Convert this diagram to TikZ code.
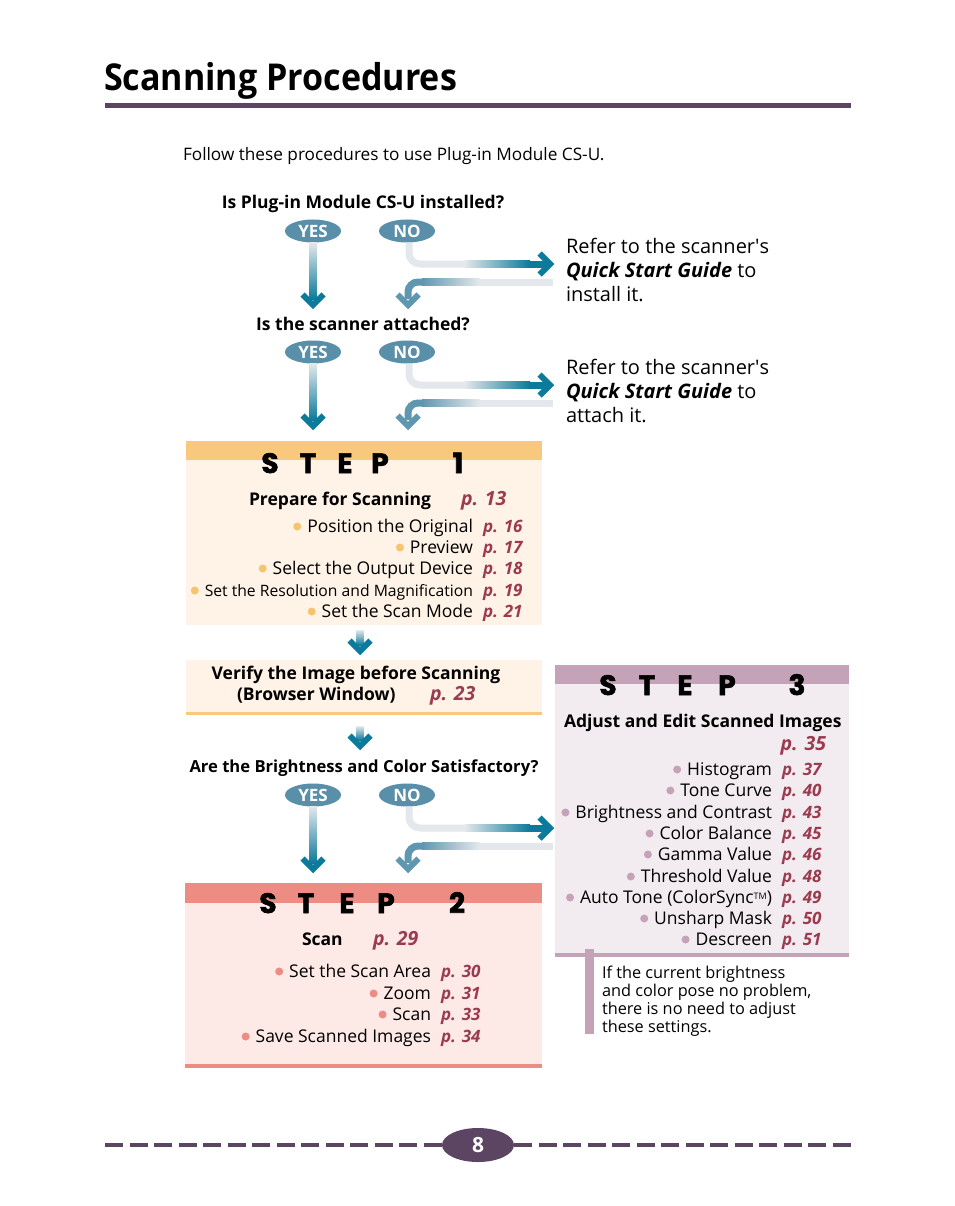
\documentclass[tikz,border=0pt]{standalone}
\usepackage{fontspec}
\setmainfont{Open Sans}
\newfontfamily\hfont{Open Sans}
\newfontfamily\titlefont{Open Sans}[FakeStretch=0.92]
\newfontfamily\stepfont{Poppins}[FakeBold=2]
\usetikzlibrary{calc,shapes.geometric}
\definecolor{ttl}{HTML}{5C4563}
\definecolor{tealc}{HTML}{0B7A9B}
\definecolor{lg}{HTML}{E4E8EC}
\definecolor{rb}{HTML}{5F97B0}
\definecolor{ynf}{HTML}{5A8FA9}
\definecolor{pref}{HTML}{9A3B50}
\definecolor{oband}{HTML}{F8C97C}
\definecolor{obody}{HTML}{FFF2E6}
\definecolor{obul}{HTML}{F6C46E}
\definecolor{sband}{HTML}{EC8C82}
\definecolor{sbody}{HTML}{FDEAE6}
\definecolor{mband}{HTML}{C4A3B8}
\definecolor{mbody}{HTML}{F2EBEF}
\tikzset{
  every node/.style={inner sep=0pt, outer sep=0pt},
  yn/.style={ellipse, fill=ynf, text=white, font=\hfont\bfseries\fontsize{17}{17}\selectfont, minimum width=56, minimum height=23},
  qtext/.style={font=\hfont\bfseries\fontsize{17.5}{20}\selectfont, anchor=base},
  itemtext/.style={font=\fontsize{17.5}{20}\selectfont, anchor=base east},
  pg/.style={font=\bfseries\itshape\fontsize{17}{20}\selectfont, text=pref, anchor=base west},
  pgbig/.style={font=\bfseries\itshape\fontsize{19.5}{20}\selectfont, text=pref, anchor=base west},
  stepl/.style={font=\stepfont\bfseries\fontsize{28}{28}\selectfont, anchor=base},
  refer/.style={font=\fontsize{20}{24}\selectfont, align=left, anchor=north west},
  shaft/.style={line width=7},
  headtip/.style={line width=6, line join=miter, miter limit=10},
}
\newcommand\itemrow[6]{%
  \node[itemtext] (#1) at (#2,#3) {#4};
  \node[pg] (#1p) at ($(#1.base east)+(10,0)$) {#5};
  \fill[#6] ($(#1.base west)+(-10,-5.5)$) circle (4);
}
\newcommand\ynarrows[1]{%
  % YES arrow
  \shade[top color=lg, bottom color=tealc] ($(yes#1.south)+(-3.5,0)$) rectangle ($(yt#1)+(3.5,-6)$);
  \draw[headtip, tealc] ($(yt#1)+(-10.5,-10.5)$) -- (yt#1) -- ($(yt#1)+(10.5,-10.5)$);
  % NO arrow
  \draw[shaft, lg, rounded corners=11] ($(no#1.south)+(2,0)$) |- ($(nt#1)+(-85,0)$);
  \shade[left color=lg, right color=tealc] ($(nt#1)+(-85.5,-3.5)$) rectangle ($(nt#1)+(-20,3.5)$);
  \fill[tealc] ($(nt#1)+(-20.5,-3.5)$) rectangle ($(nt#1)+(-4,3.5)$);
  \draw[headtip, tealc] ($(nt#1)+(-10.5,-10.5)$) -- (nt#1) -- ($(nt#1)+(-10.5,10.5)$);
  % return arrow
  \draw[shaft, lg] (rs#1) -- ($(rs#1)+(-73,0)$);
  \shade[left color=rb, right color=lg] ($(rs#1)+(-73.5,-3.5)$) rectangle ($(rt#1|-rs#1)+(14,3.5)$);
  \draw[shaft, rb, rounded corners=10] ($(rt#1|-rs#1)+(15,0)$) -| ($(rt#1)+(0,-6)$);
  \draw[headtip, rb] ($(rt#1)+(-10.5,-10.5)$) -- (rt#1) -- ($(rt#1)+(10.5,-10.5)$);
}
\begin{document}
\begin{tikzpicture}[x=1pt,y=-1pt]
\useasboundingbox[fill=white] (0,0) rectangle (954,1206);

% title
\node[anchor=base west, font=\titlefont\bfseries\fontsize{37}{40}\selectfont] (title) at (104,91) {Scanning Procedures};
\fill[ttl] (105,103) rectangle (851,108);
\node[anchor=base west, font=\fontsize{17.2}{18}\selectfont] (intro) at (183,161) {Follow these procedures to use Plug-in Module CS-U.};

% block 1
\node[qtext] (q1) at (363,209) {Is Plug-in Module CS-U installed?};
\node[yn] (yes1) at (313,231) {YES};
\node[yn] (no1) at (407,231) {NO};
\coordinate (yt1) at (313,305);
\coordinate (nt1) at (550,264);
\coordinate (rs1) at (553,282);
\coordinate (rt1) at (408,305);
\ynarrows{1}
\node[refer] (r1) at (566,238) {Refer to the scanner\textquotesingle s\\\textbf{\textit{Quick Start Guide}} to\\install it.};

% block 2
\node[qtext] (q2) at (363,330) {Is the scanner attached?};
\node[yn] (yes2) at (313,352) {YES};
\node[yn] (no2) at (407,352) {NO};
\coordinate (yt2) at (313,426);
\coordinate (nt2) at (550,385);
\coordinate (rs2) at (553,403);
\coordinate (rt2) at (408,426);
\ynarrows{2}
\node[refer] (r2) at (566,359) {Refer to the scanner\textquotesingle s\\\textbf{\textit{Quick Start Guide}} to\\attach it.};

% STEP 1
\fill[obody] (186,460) rectangle (542,625);
\fill[oband] (186,441) rectangle (542,460);
\node[stepl] (s1a) at (270,473) {S};
\node[stepl] (s1b) at (308,473) {T};
\node[stepl] (s1c) at (345,473) {E};
\node[stepl] (s1d) at (380,473) {P};
\node[stepl] (s1e) at (458,473) {1};
\node[qtext, anchor=base west] (prep) at (249,505) {Prepare for Scanning};
\node[pgbig] (prepp) at (461,505) {p. 13};
\itemrow{i11}{473}{532}{Position the Original}{p. 16}{obul}
\itemrow{i12}{473}{553}{Preview}{p. 17}{obul}
\itemrow{i13}{473}{574}{Select the Output Device}{p. 18}{obul}
\itemrow{i14}{473}{596}{\fontsize{15.7}{20}\selectfont Set the Resolution and Magnification}{p. 19}{obul}
\itemrow{i15}{473}{617}{Set the Scan Mode}{p. 21}{obul}

% arrow step1 -> verify
\coordinate (a1s) at (360,630);
\coordinate (a1t) at (360,651);
\shade[top color=lg, bottom color=tealc] ($(a1s)+(-3.5,0)$) rectangle ($(a1t)+(3.5,-6)$);
\draw[headtip, tealc] ($(a1t)+(-10.5,-10.5)$) -- (a1t) -- ($(a1t)+(10.5,-10.5)$);

% verify box
\fill[obody] (186,660) rectangle (542,712);
\fill[oband] (186,712) rectangle (542,715);
\node[qtext] (ver1) at (356,679) {Verify the Image before Scanning};
\node[qtext, anchor=base west] (ver2) at (237,700) {(Browser Window)};
\node[pgbig] (ver2p) at (430,700) {p. 23};

% arrow verify -> question 3
\coordinate (a2s) at (360,726);
\coordinate (a2t) at (360,746);
\shade[top color=lg, bottom color=tealc] ($(a2s)+(-3.5,0)$) rectangle ($(a2t)+(3.5,-6)$);
\draw[headtip, tealc] ($(a2t)+(-10.5,-10.5)$) -- (a2t) -- ($(a2t)+(10.5,-10.5)$);

% block 3
\node[qtext, font=\hfont\bfseries\fontsize{16.6}{20}\selectfont] (q3) at (364,772) {Are the Brightness and Color Satisfactory?};
\node[yn] (yes3) at (313,795) {YES};
\node[yn] (no3) at (407,795) {NO};
\coordinate (yt3) at (313,869);
\coordinate (nt3) at (550,828);
\coordinate (rs3) at (553,846);
\coordinate (rt3) at (408,869);

% STEP 3
\fill[mbody] (555,684) rectangle (849,953);
\fill[mband] (555,665) rectangle (849,684);
\fill[mband] (555,953) rectangle (849,957);
\node[stepl] (s3a) at (608,695) {S};
\node[stepl] (s3b) at (647,695) {T};
\node[stepl] (s3c) at (685,695) {E};
\node[stepl] (s3d) at (727,695) {P};
\node[stepl] (s3e) at (797,695) {3};
\node[qtext, anchor=base west] (adj) at (564,727) {Adjust and Edit Scanned Images};
\node[pgbig, anchor=base east] (adjp) at (826,750) {p. 35};
\itemrow{i31}{772}{775}{Histogram}{p. 37}{mband}
\itemrow{i32}{772}{796}{Tone Curve}{p. 40}{mband}
\itemrow{i33}{772}{818}{Brightness and Contrast}{p. 43}{mband}
\itemrow{i34}{772}{839}{Color Balance}{p. 45}{mband}
\itemrow{i35}{772}{860}{Gamma Value}{p. 46}{mband}
\itemrow{i36}{772}{882}{Threshold Value}{p. 48}{mband}
\itemrow{i37}{772}{903}{Auto Tone (ColorSync{\fontsize{9}{9}\selectfont\raisebox{4pt}{TM}})}{p. 49}{mband}
\itemrow{i38}{772}{924}{Unsharp Mask}{p. 50}{mband}
\itemrow{i39}{772}{945}{Descreen}{p. 51}{mband}

\ynarrows{3}

% note
\fill[mband] (585,949) rectangle (594,1034);
\node[anchor=north west, align=left, font=\fontsize{16.3}{18}\selectfont] (note) at (602,966) {If the current brightness\\and color pose no problem,\\there is no need to adjust\\these settings.};

% STEP 2
\fill[sbody] (185,903) rectangle (542,1064);
\fill[sband] (185,883) rectangle (542,903);
\fill[sband] (185,1064) rectangle (542,1068);
\node[stepl] (s2a) at (268,913) {S};
\node[stepl] (s2b) at (306,913) {T};
\node[stepl] (s2c) at (347,913) {E};
\node[stepl] (s2d) at (386,913) {P};
\node[stepl] (s2e) at (457,913) {2};
\node[qtext, anchor=base west] (scan) at (302,945) {Scan};
\node[pgbig] (scanp) at (373,945) {p. 29};
\itemrow{i21}{431}{977}{Set the Scan Area}{p. 30}{sband}
\itemrow{i22}{431}{999}{Zoom}{p. 31}{sband}
\itemrow{i23}{431}{1020}{Scan}{p. 33}{sband}
\itemrow{i24}{431}{1042}{Save Scanned Images}{p. 34}{sband}

% footer
\node[ellipse, fill=ttl, minimum width=72, minimum height=34, text=white, font=\hfont\bfseries\fontsize{21}{21}\selectfont] (pgnum) at (478,1145) {8};
\draw[ttl, line width=4.5pt, dash pattern=on 18pt off 6.5pt] (105,1145) -- (pgnum.west);
\draw[ttl, line width=4.5pt, dash pattern=on 18pt off 6.5pt] (pgnum.east) -- (851,1145);
\end{tikzpicture}
\end{document}
